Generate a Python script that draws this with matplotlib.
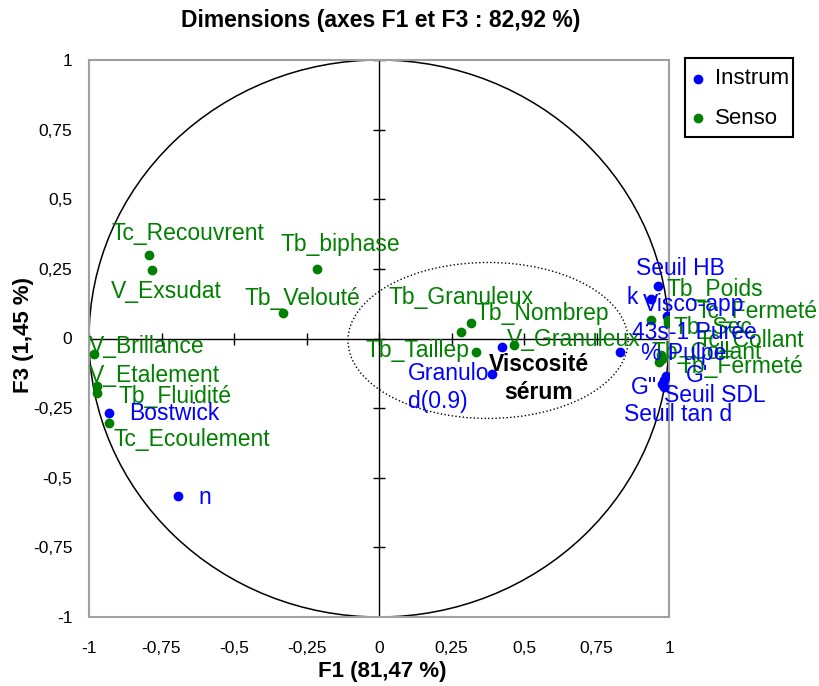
import matplotlib
matplotlib.use("Agg")
import matplotlib.pyplot as plt
from matplotlib.patches import Circle, Ellipse, Rectangle
from matplotlib.lines import Line2D

plt.rcParams['font.family'] = ['Liberation Sans', 'DejaVu Sans']

# --- data (correlations with F1 / F3) ---
instrum_names = ["Seuil HB", "k", "Visco-app\n43s-1 Purée", "% Pulpe", "G'", 'G"',
                 "Seuil SDL", "Seuil tan d", "Granulo\nd(0.9)", "Viscosité\nsérum",
                 "Bostwick", "n"]
instrum_f1 = [0.961, 0.938, 0.993, 0.832, 0.990, 0.982, 0.976, 0.984, 0.390, 0.424, -0.930, -0.693]
instrum_f3 = [0.188, 0.143, 0.080, -0.047, -0.133, -0.148, -0.163, -0.175, -0.129, -0.031, -0.267, -0.567]

senso_names = ["Tc_Recouvrent", "V_Exsudat", "Tb_biphase", "Tb_Velouté", "V_Brillance",
               "V_Etalement", "Tb_Fluidité", "Tc_Ecoulement", "Tb_Granuleux", "Tb_Nombrep",
               "Tb_Taillep", "V_Granuleux", "Tb_Poids", "Tc_Fermeté", "Tb_Sec",
               "Tc_Collant", "Tb_Collant", "Tb_Fermeté"]
senso_f1 = [-0.792, -0.784, -0.214, -0.332, -0.982, -0.974, -0.974, -0.930, 0.283, 0.317,
            0.334, 0.467, 0.938, 0.998, 0.997, 0.972, 0.967, 0.976]
senso_f3 = [0.299, 0.247, 0.248, 0.091, -0.054, -0.172, -0.197, -0.303, 0.025, 0.055,
            -0.049, -0.025, 0.068, 0.065, 0.057, -0.061, -0.085, -0.072]

ticks = [-1, -0.75, -0.5, -0.25, 0, 0.25, 0.5, 0.75, 1]
tick_labels = ["-1", "-0,75", "-0,5", "-0,25", "0", "0,25", "0,5", "0,75", "1"]

groups = ["Instrum", "Senso"]

# label offsets in pixels from the point (dx, dy)
offsets = {
    "Tc_Recouvrent": (-38, 22), "V_Exsudat": (-41, -22), "Tb_biphase": (-36, 25),
    "Tb_Velouté": (-38, 15), "V_Brillance": (-5, 7), "V_Etalement": (-8, 11),
    "Tb_Fluidité": (22, -3), "Tc_Ecoulement": (4, -17), "Tb_Granuleux": (-73, 34),
    "Tb_Nombrep": (5, 10), "Tb_Taillep": (-110, 2), "V_Granuleux": (-8, 6),
    "Tb_Poids": (15, 30), "Tc_Fermeté": (28, 9), "Tb_Sec": (5, -5),
    "Tc_Collant": (37, 15), "Tb_Collant": (-8, 10), "Tb_Fermeté": (16, -8),
    "Seuil HB": (-22, 18), "k": (-25, 1), "Visco-app\n43s-1 Purée": (27, -2),
    "% Pulpe": (21, -2), "G'": (20, 0), 'G"': (-33, -8), "Seuil SDL": (2, -12),
    "Seuil tan d": (-40, -27), "Granulo\nd(0.9)": (-84, -13),
    "Viscosité\nsérum": (37, -31), "Bostwick": (20, -1), "n": (20, -1),
}

BLUE = "#0000FF"
GREEN = "#008000"
W, H = 819, 686

fig = plt.figure(figsize=(W / 100, H / 100), dpi=100)
ax = fig.add_axes([89 / W, 1 - 617 / H, 580 / W, 557 / H])
ax.set_xlim(-1, 1)
ax.set_ylim(-1, 1)

for sp in ax.spines.values():
    sp.set_color("#A0A0A0")
    sp.set_linewidth(1.5)

ax.set_xticks(ticks)
ax.set_xticklabels(tick_labels)
ax.set_yticks(ticks)
ax.set_yticklabels(tick_labels)
ax.tick_params(axis="x", length=0, pad=17, labelsize=12.5)
ax.tick_params(axis="y", length=0, pad=12, labelsize=12.5)

# zero axes with tick marks
ax.axhline(0, color="black", lw=1, zorder=1)
ax.axvline(0, color="black", lw=1, zorder=1)
ax.plot(ticks, [0] * len(ticks), ls="none", marker="|", ms=9, mew=1, color="black", zorder=1)
ax.plot([0] * len(ticks), ticks, ls="none", marker="_", ms=9, mew=1, color="black", zorder=1)

ax.add_patch(Circle((0, 0), 1, fill=False, ec="black", lw=1.1, zorder=2, clip_on=False))
ax.add_patch(Ellipse((0.376, -0.007), 0.966, 0.56, fill=False, ec="black", lw=1, ls=":", zorder=2))

ax.plot(instrum_f1, instrum_f3, ls="none", marker="o", ms=6, color=BLUE, zorder=3)
ax.plot(senso_f1, senso_f3, ls="none", marker="o", ms=6, color=GREEN, zorder=3)


def label(names, xs, ys, color):
    for name, x, y in zip(names, xs, ys):
        dx, dy = offsets[name]
        kw = dict(color=color, fontsize=16.5, ha="left", va="center", linespacing=1.28)
        if name.startswith("Visco-app"):
            kw["ha"] = "center"
        if name.startswith("Viscosité"):
            kw.update(color="black", fontweight="bold", ha="center")
        ax.annotate(name, (x, y), xytext=(dx, dy), textcoords="offset pixels",
                    annotation_clip=False, zorder=4, **kw)


label(senso_names, senso_f1, senso_f3, GREEN)
label(instrum_names, instrum_f1, instrum_f3, BLUE)

# legend box drawn by hand, outside the plot area
fig.patches.append(Rectangle((685 / W, 1 - 137 / H), 108 / W, 79 / H, fill=False,
                             ec="black", lw=1.5, transform=fig.transFigure))
for i, (name, col) in enumerate(zip(groups, [BLUE, GREEN])):
    yy = 1 - (79 + 39 * i) / H
    fig.add_artist(Line2D([698 / W], [yy], ls="none", marker="o", ms=6, color=col,
                          transform=fig.transFigure))
    fig.text(715 / W, yy, name, ha="left", va="center", fontsize=16)

fig.text(381 / W, 1 - 20 / H, "Dimensions (axes F1 et F3 : 82,92 %)",
         ha="center", va="center", fontsize=16.5, fontweight="bold")
fig.text(382 / W, 1 - 672 / H, "F1 (81,47 %)", ha="center", va="center",
         fontsize=16, fontweight="bold")
fig.text(23 / W, 1 - 335 / H, "F3 (1,45 %)", ha="center", va="center",
         fontsize=16, fontweight="bold", rotation=90)

fig.savefig("out.png", dpi=100)
